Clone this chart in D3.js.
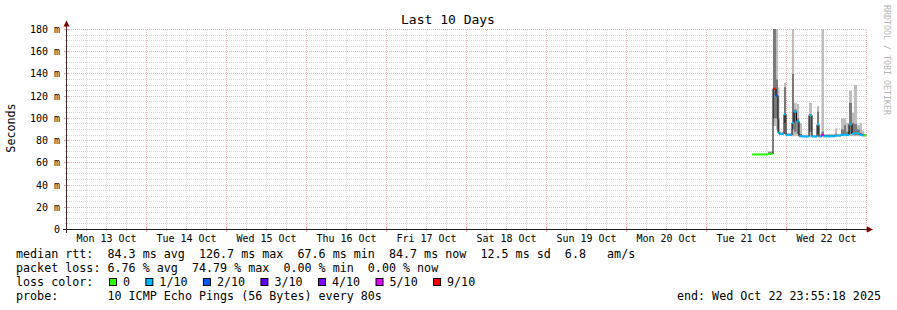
<!DOCTYPE html>
<meta charset="utf-8" />
<style>
  body { margin: 0; background: #fff; }
  svg text { font-family: "DejaVu Sans Mono", monospace; white-space: pre; fill: #000; }
  .grid-minor line { stroke: #d6d6d6; stroke-dasharray: 1,1; shape-rendering: crispEdges; }
  .grid-major line { stroke: #f6b0b0; stroke-dasharray: 1,1; shape-rendering: crispEdges; }
</style>
<svg width="897" height="310"></svg>
<script src="https://d3js.org/d3.v7.min.js"></script>
<script>
  /* global d3 */

  // samples: hours since Mon 13 Oct 00:00
  var sampleHours = [205.65, 210.45, 211.95, 212.85, 213.45, 213.9, 215.25, 215.85, 217.65, 218.25,
    219.0, 219.75, 220.65, 222.75, 223.65, 225.15, 225.75, 226.5, 227.25, 230.55,
    231.15, 232.35, 233.25, 233.85, 234.75, 235.65, 236.25, 237.15, 238.05, 238.65, 239.25];
  var endHour = 240;
  // median rtt in ms
  var median = [67.6, 68.0, 126.7, 120.4, 87, 86, 103.7, 85, 96, 106,
    97.5, 84, 83.7, 102.8, 83.7, 94.4, 83.7, 85, 84.0, 84.5,
    84.5, 85, 85.5, 85, 94.7, 86, 86.6, 86.6, 85, 84.7, 84.7];
  // lost pings out of 10
  var loss = [0, 0, 9, 2, 1, 1, 1, 1, 1, 1,
    1, 1, 1, 1, 1, 1, 1, 5, 1, 1,
    1, 1, 1, 1, 1, 1, 1, 1, 1, 1, 0];
  // smoke: outer (min/max) and inner band
  var smokeMin = [67.4, 67.5, 93, 90, 86, 85, 86, 84, 84, 84,
    84, 83, 83, 83, 83, 83, 83, 83, 83, 83.5,
    84, 84, 84, 84, 84, 84, 84, 84, 84, 84, 84];
  var smokeMax = [68.0, 70.5, 200, 200, 128, 88, 132, 87, 200, 114,
    113, 96, 85, 114, 85, 111, 86, 200, 86, 91,
    86, 100, 100, 96, 125, 105, 130, 94, 96, 89, 86];
  var smokeLo = [67.5, 67.7, 100, 100, 87, 85.5, 96, 84.5, 90, 88,
    86, 83.5, 83.3, 88, 83.3, 86, 83.3, 84, 83.5, 84,
    84, 85, 86, 85, 86, 85, 85, 85, 84.5, 84.2, 84.2];
  var smokeHi = [67.8, 69.5, 200, 135, 100, 87, 128, 86, 140, 108,
    100, 86, 84.2, 103, 84.2, 106, 84.2, 88, 85, 86,
    85, 90, 94, 88, 114, 96, 95, 90, 87, 86, 85];

  var lossLabels = ["0", "1/10", "2/10", "3/10", "4/10", "5/10", "9/10"];
  var lossLevels = [0, 1, 2, 3, 4, 5, 9];
  var lossColors = ["#26ff00", "#00b8ff", "#0059ff", "#5e00ff", "#7e00ff", "#dd00ff", "#ff0000"];

  var dayLabels = ["Mon 13 Oct", "Tue 14 Oct", "Wed 15 Oct", "Thu 16 Oct", "Fri 17 Oct",
    "Sat 18 Oct", "Sun 19 Oct", "Mon 20 Oct", "Tue 21 Oct", "Wed 22 Oct"];
  var yTicks = [0, 20, 40, 60, 80, 100, 120, 140, 160, 180];

  var legendLines = [
    "median rtt:  84.3 ms avg  126.7 ms max  67.6 ms min  84.7 ms now  12.5 ms sd  6.8   am/s",
    "packet loss: 6.76 % avg  74.79 % max  0.00 % min  0.00 % now",
    "loss color:",
    "probe:       10 ICMP Echo Pings (56 Bytes) every 80s"
  ];
  var endText = "end: Wed Oct 22 23:55:18 2025";

  var svg = d3.select("svg");
  var t0 = new Date(2025, 9, 13).getTime();
  function hourDate(h) { return new Date(t0 + h * 3600e3); }

  var x = d3.scaleTime().domain([hourDate(0), hourDate(240)]).range([66.5, 866.5]);
  var y = d3.scaleLinear().domain([0, 180]).range([229.5, 29.5]);
  function px(v) { return Math.round(v - 0.5) + 0.5; }

  var samples = sampleHours.map(function (h, i) {
    return {
      t0: hourDate(h),
      t1: hourDate(i < sampleHours.length - 1 ? sampleHours[i + 1] : endHour),
      med: median[i], loss: loss[i],
      min: smokeMin[i], max: smokeMax[i], lo: smokeLo[i], hi: smokeHi[i]
    };
  });

  // grid
  var minorV = d3.timeHour.every(6).range(hourDate(0), hourDate(240)).filter(function (d) { return d.getHours() !== 0; });
  var majorV = d3.timeDay.range(hourDate(0), hourDate(240.1)).slice(1);
  var minorH = d3.range(5, 181, 5).filter(function (v) { return v % 20 !== 0; });
  var majorH = d3.range(20, 181, 20);

  function drawGrid(cls, vData, hData) {
    var g = svg.append("g").attr("class", cls);
    g.selectAll(".v").data(vData).enter().append("line")
      .attr("x1", function (d) { return px(x(d)); })
      .attr("x2", function (d) { return px(x(d)); })
      .attr("y1", 229).attr("y2", 29);
    g.selectAll(".h").data(hData).enter().append("line")
      .attr("x1", 67).attr("x2", 867)
      .attr("y1", function (d) { return px(y(d)); })
      .attr("y2", function (d) { return px(y(d)); });
  }
  drawGrid("grid-minor", minorV, minorH);
  drawGrid("grid-major", majorV, majorH);

  // smoke
  svg.append("clipPath").attr("id", "plot").append("rect")
    .attr("x", 66.5).attr("y", 29).attr("width", 800).attr("height", 200.5);
  var smoke = svg.append("g").attr("clip-path", "url(#plot)");
  smoke.selectAll(".outer").data(samples).enter().append("rect")
    .attr("x", function (d) { return x(d.t0); })
    .attr("width", function (d) { return x(d.t1) - x(d.t0); })
    .attr("y", function (d) { return y(d.max); })
    .attr("height", function (d) { return y(d.min) - y(d.max); })
    .attr("fill", "#bdbdbd");
  smoke.selectAll(".inner").data(samples).enter().append("rect")
    .attr("x", function (d) { return x(d.t0); })
    .attr("width", function (d) { return x(d.t1) - x(d.t0); })
    .attr("y", function (d) { return y(d.hi); })
    .attr("height", function (d) { return y(d.lo) - y(d.hi); })
    .attr("fill", "#7a7a7a");

  // median
  var stepData = samples.map(function (d) { return [d.t0, d.med]; });
  stepData.push([hourDate(endHour), median[median.length - 1]]);
  smoke.append("path")
    .datum(stepData)
    .attr("fill", "none").attr("stroke", "#000").attr("stroke-width", 1)
    .attr("d", d3.line().curve(d3.curveStepAfter)
      .x(function (d) { return x(d[0]); })
      .y(function (d) { return y(d[1]); }));
  smoke.selectAll(".med").data(samples).enter().append("line")
    .attr("x1", function (d) { return x(d.t0); })
    .attr("x2", function (d) { return Math.max(x(d.t1), x(d.t0) + 1.5); })
    .attr("y1", function (d) { return y(d.med); })
    .attr("y2", function (d) { return y(d.med); })
    .attr("stroke", function (d) { return lossColors[lossLevels.indexOf(d.loss)]; })
    .attr("stroke-width", 2);

  // ticks on axes
  function ticksY(data, x1, x2, color) {
    svg.append("g").selectAll("line").data(data).enter().append("line")
      .attr("x1", x1).attr("x2", x2)
      .attr("y1", function (d) { return px(y(d)); })
      .attr("y2", function (d) { return px(y(d)); })
      .attr("stroke", color);
  }
  function ticksX(data, y1, y2, color) {
    svg.append("g").selectAll("line").data(data).enter().append("line")
      .attr("x1", function (d) { return px(x(d)); })
      .attr("x2", function (d) { return px(x(d)); })
      .attr("y1", y1).attr("y2", y2)
      .attr("stroke", color);
  }
  ticksY(minorH, 65, 68, "#c8c8c8");
  ticksY(majorH, 64, 69, "#e8a0a0");
  ticksX(minorV, 228, 231, "#c8c8c8");
  ticksX(majorV, 227, 232, "#e8a0a0");

  // axes
  svg.append("line").attr("x1", 63).attr("x2", 868).attr("y1", y(0)).attr("y2", y(0))
    .attr("stroke", "#1a1a1a");
  svg.append("line").attr("x1", 66.5).attr("x2", 66.5).attr("y1", 233).attr("y2", 24)
    .attr("stroke", "#4a2525");
  svg.append("path").attr("d", "M66.5,20.5 L63.5,26.5 L69.5,26.5 Z").attr("fill", "#7f0000");
  svg.append("path").attr("d", "M873,229.5 L867,226.5 L867,232.5 Z").attr("fill", "#7f0000");

  // y labels
  svg.append("g").selectAll("text").data(yTicks).enter().append("text")
    .attr("x", 60).attr("y", function (d) { return y(d) + 3.5; })
    .attr("text-anchor", "end").attr("font-size", "10px")
    .text(function (d) { return d === 0 ? "0" : d + " m"; });

  // x labels at noon
  svg.append("g").selectAll("text").data(dayLabels).enter().append("text")
    .attr("x", function (d, i) { return x(hourDate(i * 24 + 12)); })
    .attr("y", 242)
    .attr("text-anchor", "middle").attr("font-size", "10px")
    .text(function (d) { return d; });

  // title & labels
  svg.append("text").attr("x", 448).attr("y", 24).attr("text-anchor", "middle")
    .attr("font-size", "13px").text("Last 10 Days");
  svg.append("text").attr("transform", "translate(15,128) rotate(-90)")
    .attr("text-anchor", "middle").attr("font-size", "11.7px").text("Seconds");
  svg.append("text").attr("transform", "translate(884,5) rotate(90)")
    .attr("font-size", "8.3px").style("fill", "#b4b4b4").text("RRDTOOL / TOBI OETIKER");

  // legend
  var charW = 7.06;
  svg.append("g").selectAll("text").data(legendLines).enter().append("text")
    .attr("x", 16).attr("y", function (d, i) { return 258 + i * 14; })
    .attr("font-size", "11.7px")
    .text(function (d) { return d; });
  svg.append("text").attr("x", 881).attr("y", 300).attr("text-anchor", "end")
    .attr("font-size", "11.7px").text(endText);

  var lx = 109;
  var legend = svg.append("g");
  lossLabels.forEach(function (lab, i) {
    legend.append("rect").attr("x", lx + 0.5).attr("y", 278.5).attr("width", 7).attr("height", 7)
      .attr("fill", lossColors[i]).attr("stroke", "#000");
    legend.append("text").attr("x", lx + 14).attr("y", 286).attr("font-size", "11.7px").text(lab);
    lx += 14 + lab.length * charW + 15.3;
  });
</script>
